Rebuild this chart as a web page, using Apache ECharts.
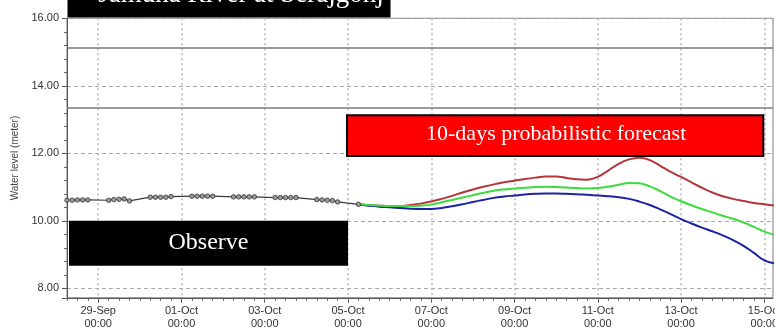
<!DOCTYPE html>
<html>
<head>
<meta charset="utf-8">
<title>Jamuna River at Serajgonj</title>
<script src="https://cdn.jsdelivr.net/npm/echarts@6/dist/echarts.min.js"></script>
<style>
  html, body { margin: 0; padding: 0; background: #fff; }
  #chart { width: 775px; height: 333px; }
</style>
</head>
<body>
<div id="chart"></div>
<script>
// ---- Station and annotation text ----
const stationName = 'Jamuna River at Serajgonj';
const observeLabel = 'Observe';
const forecastLabel = '10-days probabilistic forecast';
const yAxisName = 'Water level (meter)';

// ---- Observed water level (m), 06:00-18:00 readings every 3 h ----
const obsTimes = [
  '09-28 06:00', '09-28 09:00', '09-28 12:00', '09-28 15:00', '09-28 18:00',
  '09-29 06:00', '09-29 09:00', '09-29 12:00', '09-29 15:00', '09-29 18:00',
  '09-30 06:00', '09-30 09:00', '09-30 12:00', '09-30 15:00', '09-30 18:00',
  '10-01 06:00', '10-01 09:00', '10-01 12:00', '10-01 15:00', '10-01 18:00',
  '10-02 06:00', '10-02 09:00', '10-02 12:00', '10-02 15:00', '10-02 18:00',
  '10-03 06:00', '10-03 09:00', '10-03 12:00', '10-03 15:00', '10-03 18:00',
  '10-04 06:00', '10-04 09:00', '10-04 12:00', '10-04 15:00', '10-04 18:00',
  '10-05 06:00'
];
const obsLevels = [
  10.61, 10.61, 10.62, 10.62, 10.62,
  10.61, 10.63, 10.64, 10.65, 10.59,
  10.70, 10.70, 10.70, 10.70, 10.72,
  10.73, 10.73, 10.73, 10.73, 10.73,
  10.71, 10.71, 10.71, 10.71, 10.71,
  10.69, 10.69, 10.69, 10.69, 10.69,
  10.63, 10.62, 10.61, 10.60, 10.56,
  10.49
];

// ---- Forecast ensemble (m), 6-hourly from 05-Oct 06:00 ----
const fcStart = '10-05 06:00';
const fcUpper = [
  10.49, 10.46, 10.45, 10.44, 10.44, 10.47, 10.51, 10.57, 10.65, 10.74,
  10.84, 10.93, 11.01, 11.08, 11.14, 11.19, 11.24, 11.28, 11.31, 11.31,
  11.27, 11.23, 11.22, 11.30, 11.49, 11.69, 11.82, 11.87, 11.80, 11.63,
  11.45, 11.30, 11.14, 10.98, 10.84, 10.73, 10.65, 10.59, 10.53, 10.49,
  10.45
];
const fcMedian = [
  10.49, 10.47, 10.45, 10.44, 10.44, 10.44, 10.45, 10.48, 10.55, 10.62,
  10.69, 10.76, 10.83, 10.89, 10.93, 10.96, 10.98, 11.00, 11.01, 11.00,
  10.99, 10.97, 10.96, 10.97, 11.01, 11.07, 11.12, 11.11, 11.02, 10.88,
  10.72, 10.58, 10.46, 10.35, 10.25, 10.15, 10.06, 9.95, 9.82, 9.68,
  9.59
];
const fcLower = [
  10.48, 10.45, 10.42, 10.40, 10.38, 10.36, 10.35, 10.35, 10.38, 10.43,
  10.49, 10.56, 10.62, 10.68, 10.72, 10.75, 10.78, 10.80, 10.81, 10.81,
  10.80, 10.79, 10.77, 10.75, 10.73, 10.70, 10.65, 10.57, 10.47, 10.34,
  10.20, 10.05, 9.92, 9.80, 9.69, 9.57, 9.43, 9.26, 9.05, 8.83,
  8.74
];

// ---- Reference levels drawn as solid horizontal lines (m) ----
const referenceLevels = [15.13, 13.35];

// ---- Axis extents and labelled dates ----
const xStart = '09-28 06:00';
const xEnd = '10-15 05:00';
const xLabelTimes = ['09-29 00:00', '10-01 00:00', '10-03 00:00', '10-05 00:00',
  '10-07 00:00', '10-09 00:00', '10-11 00:00', '10-13 00:00', '10-15 00:00'];
const yMin = 7.72, yMax = 16;

// ---- Annotation box extents (data coordinates) ----
const observeBox = { from: '09-28 06:00', to: '10-05 00:00', top: 10.0, bottom: 8.67 };
const forecastBox = { from: '10-05 00:00', to: '10-15 00:00', top: 13.13, bottom: 11.92 };

const YEAR = 2019;
const MONTHS = ['Jan','Feb','Mar','Apr','May','Jun','Jul','Aug','Sep','Oct','Nov','Dec'];
const HOUR = 3600 * 1000;
function t(s) {
  const m = +s.slice(0, 2), d = +s.slice(3, 5), h = +s.slice(6, 8), mi = +s.slice(9, 11);
  return Date.UTC(YEAR, m - 1, d, h, mi);
}
function pad(n) { return (n < 10 ? '0' : '') + n; }
function fmtDate(v) {
  const d = new Date(v);
  return pad(d.getUTCDate()) + '-' + MONTHS[d.getUTCMonth()] + '\n' +
    pad(d.getUTCHours()) + ':' + pad(d.getUTCMinutes());
}
function zip(times, vals) { return times.map((s, i) => [t(s), vals[i]]); }
function sixHourly(start, vals) { return vals.map((v, i) => [t(start) + i * 6 * HOUR, v]); }

// Minor x ticks every 6 hours
const minorXTicks = [];
for (let v = t(xStart); v <= t(xEnd); v += 6 * HOUR) minorXTicks.push(v);

const axisFont = { fontFamily: 'Arial, "Liberation Sans", sans-serif', fontSize: 11, color: '#333' };

const chart = echarts.init(document.getElementById('chart'), null, { renderer: 'canvas' });

chart.setOption({
  animation: false,
  backgroundColor: '#fff',
  grid: {
    left: 67, right: 2, top: 18.3, bottom: 35.2,
    outerBoundsMode: 'none', containLabel: false,
    show: true, borderColor: '#7d7d7d', borderWidth: 1, backgroundColor: 'transparent'
  },
  xAxis: [{
    type: 'value',
    min: t(xStart), max: t(xEnd),
    axisLine: { lineStyle: { color: '#555', width: 1 } },
    axisTick: { customValues: xLabelTimes.map(t), length: 5, lineStyle: { color: '#555' } },
    axisLabel: {
      customValues: xLabelTimes.map(t), formatter: fmtDate,
      margin: 7, lineHeight: 13, hideOverlap: false, ...axisFont
    },
    splitLine: { show: true, lineStyle: { color: '#b5b5b5', type: [2, 3], width: 1.5 } }
  }, {
    type: 'value',
    position: 'bottom',
    min: t(xStart), max: t(xEnd),
    axisLine: { show: false },
    axisTick: { customValues: minorXTicks, length: 3, lineStyle: { color: '#666' } },
    axisLabel: { show: false },
    splitLine: { show: false }
  }],
  yAxis: {
    type: 'value',
    min: yMin, max: yMax,
    name: yAxisName,
    nameLocation: 'middle',
    nameGap: 42,
    nameTextStyle: { fontFamily: 'Arial, "Liberation Sans", sans-serif', fontSize: 10, color: '#444' },
    axisLine: { show: true, lineStyle: { color: '#555', width: 1 } },
    axisTick: { show: true, length: 5, lineStyle: { color: '#555' } },
    minorTick: { show: true, splitNumber: 5, length: 3, lineStyle: { color: '#666' } },
    axisLabel: {
      showMinLabel: false, margin: 8, ...axisFont,
      formatter: v => v.toFixed(2)
    },
    splitLine: { show: true, lineStyle: { color: '#a8a8a8', type: [4, 3], width: 1 } }
  },
  series: [{
    name: 'Observed',
    type: 'line',
    data: zip(obsTimes, obsLevels),
    symbol: 'circle',
    symbolSize: 4.5,
    showAllSymbol: true,
    lineStyle: { color: '#3a3a3a', width: 1.2 },
    itemStyle: { color: '#9a9a9a', borderColor: '#333', borderWidth: 0.8 },
    z: 4,
    markLine: {
      silent: true,
      symbol: 'none',
      label: { show: false },
      lineStyle: { color: '#7a7a7a', type: 'solid', width: 1.5 },
      data: referenceLevels.map(v => ({ yAxis: v }))
    }
  }, {
    name: 'Upper',
    type: 'line',
    data: sixHourly(fcStart, fcUpper),
    smooth: 0.4,
    symbol: 'none',
    lineStyle: { color: '#b4353a', width: 2 },
    z: 3
  }, {
    name: 'Lower',
    type: 'line',
    data: sixHourly(fcStart, fcLower),
    smooth: 0.4,
    symbol: 'none',
    lineStyle: { color: '#1c22a6', width: 2 },
    z: 3
  }, {
    name: 'Median',
    type: 'line',
    data: sixHourly(fcStart, fcMedian),
    smooth: 0.4,
    symbol: 'none',
    lineStyle: { color: '#3bdc3b', width: 2 },
    z: 3
  }]
});

// Annotation boxes placed through the chart's own coordinate system
function px(time, val) { return chart.convertToPixel({ gridIndex: 0 }, [t(time), val]); }
const oA = px(observeBox.from, observeBox.top), oB = px(observeBox.to, observeBox.bottom);
const fA = px(forecastBox.from, forecastBox.top), fB = px(forecastBox.to, forecastBox.bottom);
const gridLeft = px(xStart, yMax);
const serif = '"Liberation Serif", "Times New Roman", serif';

chart.setOption({
  graphic: [
    {
      type: 'rect', z: 100,
      shape: { x: gridLeft[0] + 0.5, y: -2, width: 323, height: gridLeft[1] - 0.8 + 2 },
      style: { fill: '#000' }
    },
    {
      type: 'text', z: 101,
      x: gridLeft[0] + 174, y: -5,
      style: { text: stationName, fill: '#fff', font: '27px ' + serif, align: 'center', verticalAlign: 'middle' }
    },
    {
      type: 'rect', z: 100,
      shape: { x: oA[0] + 2, y: oA[1], width: oB[0] - oA[0] - 2, height: oB[1] - oA[1] },
      style: { fill: '#000' }
    },
    {
      type: 'text', z: 101,
      x: (oA[0] + oB[0]) / 2 + 1, y: (oA[1] + oB[1]) / 2 - 1,
      style: { text: observeLabel, fill: '#fff', font: '24px ' + serif, align: 'center', verticalAlign: 'middle' }
    },
    {
      type: 'rect', z: 100,
      shape: { x: fA[0] - 1, y: fA[1], width: fB[0] - fA[0], height: fB[1] - fA[1] },
      style: { fill: '#ff0000', stroke: '#000', lineWidth: 2 }
    },
    {
      type: 'text', z: 101,
      x: (fA[0] + fB[0]) / 2, y: (fA[1] + fB[1]) / 2 - 1,
      style: { text: forecastLabel, fill: '#fff', font: '22px ' + serif, align: 'center', verticalAlign: 'middle' }
    }
  ]
});
</script>
</body>
</html>
